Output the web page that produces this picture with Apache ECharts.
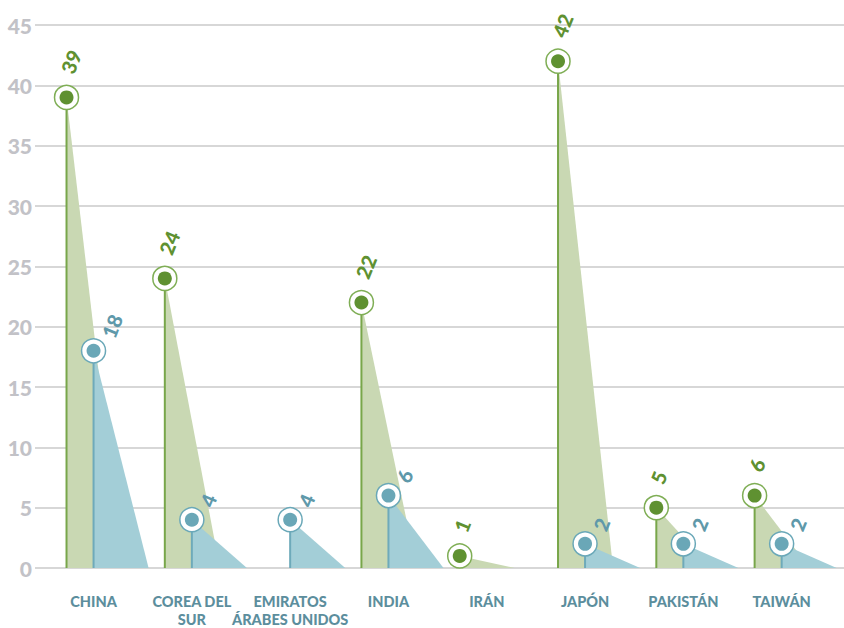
<!DOCTYPE html>
<html>
<head>
<meta charset="utf-8">
<script src="https://cdn.jsdelivr.net/npm/echarts@6/dist/echarts.min.js"></script>
<style>
  html, body { margin: 0; padding: 0; background: #ffffff; }
  #chart { width: 844px; height: 628px; }
</style>
</head>
<body>
<div id="chart"></div>
<script>
// Countries on the category axis
const countries = ['CHINA', 'COREA DEL\nSUR', 'EMIRATOS\nÁRABES UNIDOS', 'INDIA', 'IRÁN', 'JAPÓN', 'PAKISTÁN', 'TAIWÁN'];
// First series (green) and second series (blue); null = no mark
const greenValues = [39, 24, null, 22, 1, 42, 5, 6];
const blueValues = [18, 4, 4, 6, null, 2, 2, 2];
// Value axis range
const yMin = 0;
const yMax = 45;
const yStep = 5;

const FONT = 'Lato, "Open Sans", sans-serif';

const greenStyle = {
  fill: '#c9d8b3', line: '#78a64a', ring: '#7fae55', dot: '#5f9131', text: '#5f9131',
  shift: -0.275, labelDx: 0, labelDy: -25
};
const blueStyle = {
  fill: '#a3ced7', line: '#6eaaba', ring: '#6aa8b8', dot: '#6aa7b7', text: '#5f99aa',
  shift: 0, labelDx: 14, labelDy: -14
};

function toData(values) {
  const out = [];
  values.forEach(function (v, i) { if (v != null) out.push([i, v]); });
  return out;
}

function makeRenderer(sty) {
  return function (params, api) {
    const cat = api.value(0);
    const val = api.value(1);
    const band = api.size([1, 0])[0];
    const top = api.coord([cat, val]);
    const base = api.coord([cat, 0]);
    const x = top[0] + sty.shift * band;
    const y = top[1];
    const y0 = base[1];
    const w = 0.56 * band;
    return {
      type: 'group',
      children: [
        { type: 'polygon', shape: { points: [[x, y], [x, y0], [x + w, y0]] },
          style: { fill: sty.fill } },
        { type: 'line', shape: { x1: x, y1: y, x2: x, y2: y0 },
          style: { stroke: sty.line, lineWidth: 2 } },
        { type: 'circle', shape: { cx: x, cy: y, r: 12 },
          style: { fill: '#ffffff', stroke: sty.ring, lineWidth: 1.5 } },
        { type: 'circle', shape: { cx: x, cy: y, r: 7 },
          style: { fill: sty.dot } },
        { type: 'text', x: x + sty.labelDx, y: y + sty.labelDy,
          rotation: 68 * Math.PI / 180,
          style: { text: String(val), fill: sty.text, font: '900 20px ' + FONT,
                   align: 'left', verticalAlign: 'middle' } }
      ]
    };
  };
}

const chart = echarts.init(document.getElementById('chart'), null, { renderer: 'svg' });

chart.setOption({
  animation: false,
  backgroundColor: '#ffffff',
  grid: [
    { left: 44.4, right: 13.2, top: 25, bottom: 60, containLabel: false, outerBoundsMode: 'none' },
    { left: 35, right: 0, top: 25, bottom: 60, containLabel: false, outerBoundsMode: 'none' }
  ],
  xAxis: [
    {
      type: 'category', gridIndex: 0, data: countries,
      axisLine: { show: false }, axisTick: { show: false },
      axisLabel: {
        interval: 0, color: '#5c8e9d', fontFamily: FONT, fontWeight: 900,
        fontSize: 14.5, lineHeight: 18, margin: 24
      },
      splitLine: { show: false }
    },
    { type: 'value', gridIndex: 1, show: false }
  ],
  yAxis: [
    { type: 'value', gridIndex: 0, min: yMin, max: yMax, interval: yStep, show: false },
    {
      type: 'value', gridIndex: 1, min: yMin, max: yMax, interval: yStep,
      axisLine: { show: false }, axisTick: { show: false },
      axisLabel: { color: '#c2c2c7', fontFamily: FONT, fontWeight: 900, fontSize: 21, margin: 3 },
      splitLine: { show: true, lineStyle: { color: '#cacaca', width: 1.5 } }
    }
  ],
  series: [
    { type: 'custom', xAxisIndex: 0, yAxisIndex: 0, data: toData(greenValues),
      renderItem: makeRenderer(greenStyle), z: 2 },
    { type: 'custom', xAxisIndex: 0, yAxisIndex: 0, data: toData(blueValues),
      renderItem: makeRenderer(blueStyle), z: 3 }
  ]
});
</script>
</body>
</html>
